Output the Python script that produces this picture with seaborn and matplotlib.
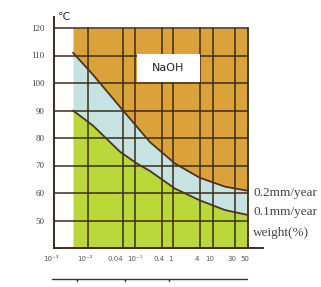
import matplotlib
matplotlib.use("Agg")
import matplotlib.pyplot as plt
import matplotlib.transforms as mtrans
import seaborn as sns
import numpy as np
import pandas as pd

# x axis: concentration ticks (irregular spacing, positions in chart units)
tick_pos = [0, 34, 69, 81, 108, 119, 146, 159, 181, 194]
tick_labels = ["10⁻³", "10⁻²", "0.04", "10⁻¹", "0.4", "1", "4", "10", "30", "50"]
y_ticks = [50, 60, 70, 80, 90, 100, 110, 120]

# iso-corrosion curves (temperature in degC)
upper_x = [19, 39, 69, 96, 121, 146, 171, 194]
upper_t = [111, 103, 90, 78.5, 70.7, 65.5, 62.3, 60.8]
lower_x = [19, 39, 66, 83, 96, 121, 146, 171, 194]
lower_t = [90, 84.5, 75, 70.7, 68, 61.6, 57.3, 53.8, 52]

x_start, x_end = 19, 194
t_min, t_max = 40, 120

orange = "#DCA23A"
green = "#BAD83A"
blue = "#C6E3E2"
dark = "#3b2c1c"

sns.set_style("white")
plt.rcParams["font.family"] = ["DejaVu Sans"]

fig = plt.figure(figsize=(3.21, 2.87), dpi=100)
ax = fig.add_axes([54 / 321, 39 / 287, 209 / 321, 231 / 287])

# fills
xs = np.array(sorted(set(upper_x + lower_x)), dtype=float)
up = np.interp(xs, upper_x, upper_t)
lo = np.interp(xs, lower_x, lower_t)
ax.fill_between(xs, t_min, lo, color=green, lw=0, zorder=1)
ax.fill_between(xs, lo, up, color=blue, lw=0, zorder=1)
ax.fill_between(xs, up, t_max, color=orange, lw=0, zorder=1)

# grid
for t in y_ticks:
    ax.plot([0, x_end], [t, t], color=dark, lw=1.1, zorder=2)
for p in tick_pos[1:-1]:
    ax.plot([p, p], [t_min, t_max], color=dark, lw=1.1, zorder=2)
ax.plot([x_end, x_end], [t_min, t_max], color=dark, lw=1.3, zorder=2)

# NaOH label box
ax.fill_between([83, 146], 100.5, 110.6, color="white", lw=0, zorder=3)
ax.text(114.5, 105.5, "NaOH", ha="center", va="center", fontsize=8,
        color="#222222", zorder=4)

# curves
curves = pd.concat([
    pd.DataFrame({"x": upper_x, "t": upper_t, "c": "0.2"}),
    pd.DataFrame({"x": lower_x, "t": lower_t, "c": "0.1"}),
])
sns.lineplot(data=curves, x="x", y="t", units="c", estimator=None,
             color="#4a3520", lw=1.3, ax=ax, zorder=5, sort=False)

ax.set_xlim(0, 209)
ax.set_ylim(t_min, 124)
ax.set_xlabel("")
ax.set_ylabel("")
ax.set_xticks(tick_pos)
ax.set_xticklabels(tick_labels, fontsize=5, color="#555555")
ax.set_yticks(y_ticks)
ax.set_yticklabels([str(t) for t in y_ticks], fontsize=6.5, color="#444444",
                   family="Liberation Serif")
ax.tick_params(axis="both", length=0)
ax.tick_params(axis="x", pad=6)
ax.tick_params(axis="y", pad=7)

# labels in the reference sit a little left of their grid lines
shift = {"0.04": -8, "10⁻¹": 0}
for lab, txt in zip(ax.get_xticklabels(), tick_labels):
    dx = shift.get(txt, -3)
    lab.set_transform(lab.get_transform() +
                      mtrans.ScaledTranslation(dx / 100, 0, fig.dpi_scale_trans))

for s in ["top", "right"]:
    ax.spines[s].set_visible(False)
ax.spines["left"].set_color(dark)
ax.spines["left"].set_linewidth(1.4)
ax.spines["bottom"].set_color(dark)
ax.spines["bottom"].set_linewidth(1.4)

ax.text(4, 124, "℃", fontsize=8, color="#333333", va="center", ha="left")

# right hand labels
for t, s in [(60, "0.2mm/year"), (53, "0.1mm/year"), (45.5, "weight(%)")]:
    ax.text(199, t, s, fontsize=9.5, color="#444444", va="center",
            ha="left", family="Liberation Serif", clip_on=False)

# extra scale line under the axis
tr = ax.get_xaxis_transform()
ax.plot([-2, 193], [-0.134, -0.134], color="#333333", lw=1, transform=tr,
        clip_on=False)
for p in [23, 71, 115]:
    ax.plot([p, p], [-0.134, -0.145], color="#333333", lw=1, transform=tr,
            clip_on=False)

fig.savefig("out.png", dpi=100)
